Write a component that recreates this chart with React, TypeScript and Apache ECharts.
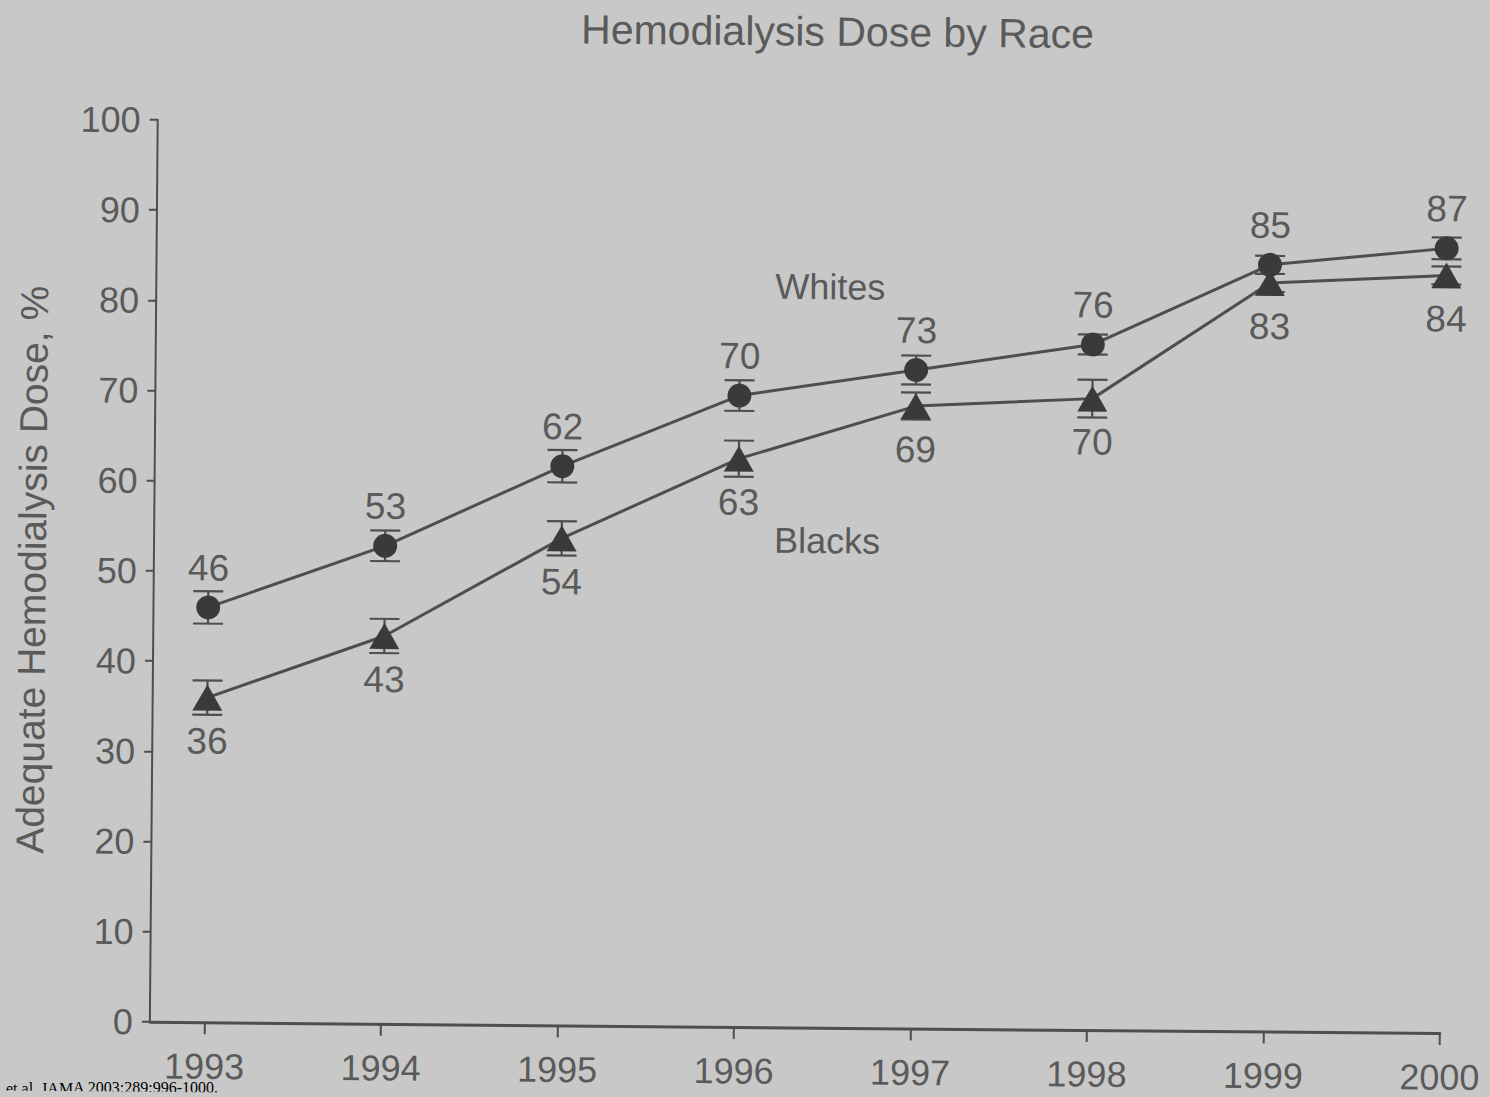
import React, { useEffect, useRef } from "react";
import * as echarts from "echarts";

const years = [1993, 1994, 1995, 1996, 1997, 1998, 1999, 2000];
const whites = [46, 53, 62, 70, 73, 76, 85, 87];
const blacks = [36, 43, 54, 63, 69, 70, 83, 84];
const whitesErr = [1.8, 1.7, 1.8, 1.7, 1.6, 1.1, 1.0, 1.2];
const blacksErr = [1.9, 1.9, 1.9, 2.0, 1.5, 2.1, 1.0, 1.0];
const yTicks = [0, 10, 20, 30, 40, 50, 60, 70, 80, 90, 100];

const TITLE = "Hemodialysis Dose by Race";
const Y_NAME = "Adequate Hemodialysis Dose, %";
const CITATION = "et al. JAMA 2003;289:996-1000.";

const W = 1490;
const H = 1097;
const ROT_DEG = 0.5;
const TH = (ROT_DEG * Math.PI) / 180;
const CX = W / 2;
const CY = H / 2;

function unrot(X: number, Y: number): [number, number] {
  const dx = X - CX;
  const dy = Y - CY;
  return [CX + dx * Math.cos(TH) + dy * Math.sin(TH), CY - dx * Math.sin(TH) + dy * Math.cos(TH)];
}

const INK = "#5a5a5a";
const LINE = "#4e4e4e";
const MARK = "#3a3a3a";
const FONT = "'Liberation Sans', Arial, sans-serif";

export default function App() {
  const ref = useRef<HTMLDivElement>(null);

  useEffect(() => {
    if (!ref.current) return;
    const chart = echarts.init(ref.current, undefined, { renderer: "svg" });

    const errData = (vals: number[], errs: number[]) =>
      years.map((y, i) => [y, vals[i], vals[i] - errs[i], vals[i] + errs[i]]);

    const errSeries = (name: string, vals: number[], errs: number[]) => ({
      type: "custom",
      name,
      data: errData(vals, errs),
      z: 1,
      renderItem: (params: any, api: any) => {
        const x = api.value(0);
        const lo = api.coord([x, api.value(2)]);
        const hi = api.coord([x, api.value(3)]);
        const hw = 15;
        const st = { stroke: LINE, lineWidth: 2.2 };
        return {
          type: "group",
          children: [
            { type: "line", shape: { x1: lo[0], y1: lo[1], x2: hi[0], y2: hi[1] }, style: st },
            { type: "line", shape: { x1: lo[0] - hw, y1: lo[1], x2: lo[0] + hw, y2: lo[1] }, style: st },
            { type: "line", shape: { x1: hi[0] - hw, y1: hi[1], x2: hi[0] + hw, y2: hi[1] }, style: st },
          ],
        };
      },
    });

    const cit = unrot(6, 1080);

    chart.setOption({
      animation: false,
      backgroundColor: "transparent",
      textStyle: { fontFamily: FONT },
      grid: { left: 154, right: 46, top: 125, bottom: 70, containLabel: false },
      xAxis: {
        type: "value",
        min: 1992.69,
        max: 2000,
        axisLine: { show: true, lineStyle: { color: LINE, width: 3 } },
        axisTick: { show: true, length: 12, lineStyle: { color: LINE, width: 2 }, customValues: years },
        axisLabel: {
          fontSize: 36,
          color: INK,
          margin: 26,
          customValues: years,
          formatter: (v: number) => String(Math.round(v)),
          fontFamily: FONT,
        },
        splitLine: { show: false },
      },
      yAxis: {
        type: "value",
        min: 0,
        max: 100,
        interval: 10,
        name: Y_NAME,
        nameLocation: "middle",
        nameGap: 102,
        nameTextStyle: { fontSize: 39, color: INK, fontFamily: FONT },
        axisLine: { show: true, lineStyle: { color: LINE, width: 2 } },
        axisTick: { show: true, length: 8, lineStyle: { color: LINE, width: 2 } },
        axisLabel: {
          fontSize: 36,
          color: INK,
          margin: 17,
          fontFamily: FONT,
          formatter: (v: number) => (yTicks.includes(v) ? String(v) : ""),
        },
        splitLine: { show: false },
      },
      graphic: [
        {
          type: "text",
          x: 833,
          y: 31,
          style: { text: TITLE, fill: INK, font: `41px ${FONT}`, textAlign: "center", textVerticalAlign: "middle" },
        },
        {
          type: "text",
          x: 828,
          y: 286,
          style: { text: "Whites", fill: INK, font: `36px ${FONT}`, textAlign: "center", textVerticalAlign: "middle" },
        },
        {
          type: "text",
          x: 827,
          y: 540,
          style: { text: "Blacks", fill: INK, font: `36px ${FONT}`, textAlign: "center", textVerticalAlign: "middle" },
        },
        {
          type: "text",
          x: cit[0],
          y: cit[1],
          rotation: TH,
          style: {
            text: CITATION,
            fill: "#000000",
            font: "16px 'Liberation Serif', 'Times New Roman', serif",
            textAlign: "left",
            textVerticalAlign: "top",
          },
        },
      ],
      series: [
        errSeries("Whites error", whites, whitesErr),
        errSeries("Blacks error", blacks, blacksErr),
        {
          type: "line",
          name: "Whites",
          data: years.map((y, i) => [y, whites[i]]),
          symbol: "circle",
          symbolSize: 24,
          itemStyle: { color: MARK },
          lineStyle: { color: LINE, width: 3 },
          z: 3,
          label: {
            show: true,
            position: "top",
            distance: 9,
            fontSize: 37,
            color: INK,
            fontFamily: FONT,
            formatter: (p: any) => String(p.value[1]),
          },
        },
        {
          type: "line",
          name: "Blacks",
          data: years.map((y, i) => [y, blacks[i]]),
          symbol: "triangle",
          symbolSize: [30, 26],
          itemStyle: { color: MARK },
          lineStyle: { color: LINE, width: 3 },
          z: 3,
          label: {
            show: true,
            position: "bottom",
            distance: 12,
            fontSize: 37,
            color: INK,
            fontFamily: FONT,
            formatter: (p: any) => String(p.value[1]),
          },
        },
      ],
    });

    return () => chart.dispose();
  }, []);

  return (
    <div
      style={{
        position: "fixed",
        left: 0,
        top: 0,
        width: W,
        height: H,
        background: "#c8c8c8",
        overflow: "hidden",
      }}
    >
      <div
        ref={ref}
        style={{
          position: "absolute",
          left: 0,
          top: 0,
          width: W,
          height: H,
          transform: `rotate(${ROT_DEG}deg)`,
          transformOrigin: "50% 50%",
        }}
      />
    </div>
  );
}
